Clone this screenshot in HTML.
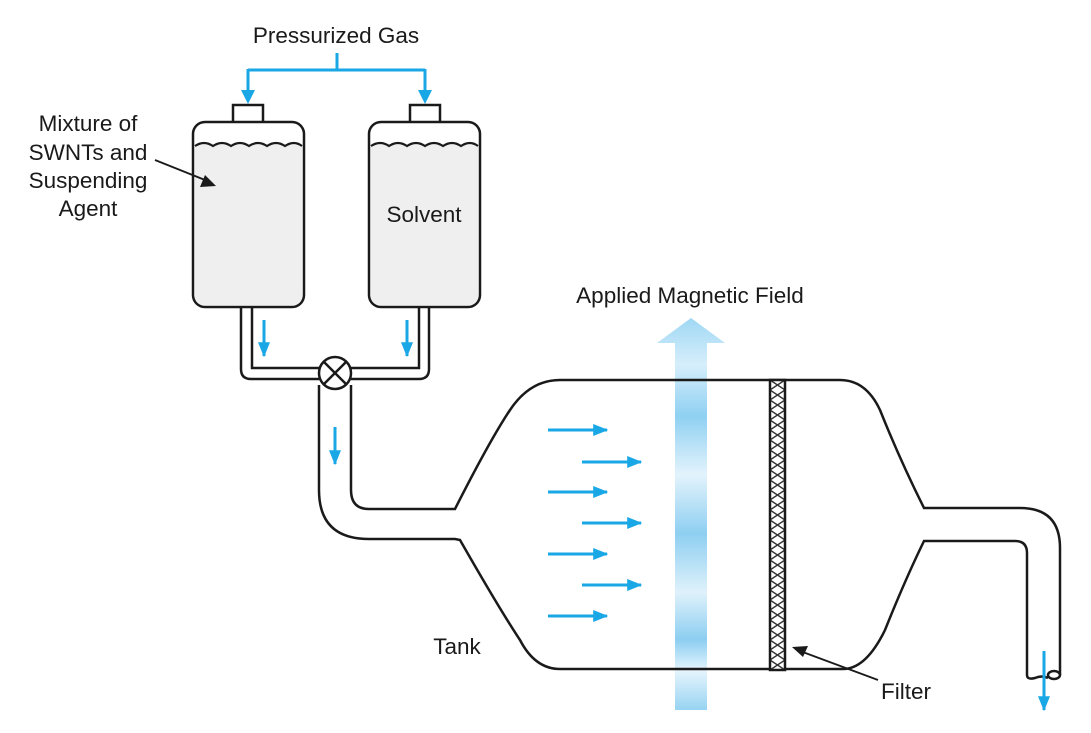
<!DOCTYPE html>
<html><head><meta charset="utf-8"><style>
html,body{margin:0;padding:0;background:#fff;}
svg{display:block;}
text{font-family:"Liberation Sans",Arial,sans-serif;font-size:22.5px;fill:#1a1a1a;}
</style></head><body>
<svg width="1091" height="733" viewBox="0 0 1091 733" xmlns="http://www.w3.org/2000/svg">
<defs>
<linearGradient id="fg" x1="0" y1="0" x2="0" y2="1">
<stop offset="0" stop-color="#9fd8f4"/>
<stop offset="0.12" stop-color="#d6eefb"/>
<stop offset="0.25" stop-color="#8fd0f2"/>
<stop offset="0.4" stop-color="#e3f3fc"/>
<stop offset="0.55" stop-color="#8ecff1"/>
<stop offset="0.7" stop-color="#dff1fb"/>
<stop offset="0.82" stop-color="#8ccef1"/>
<stop offset="0.9" stop-color="#e6f5fd"/>
<stop offset="1" stop-color="#96d3f2"/>
</linearGradient>
<pattern id="hatch" width="15" height="10" patternUnits="userSpaceOnUse" x="770" y="380">
<rect width="15" height="10" fill="#fff"/>
<path d="M0,0 L15,10 M15,0 L0,10" stroke="#333" stroke-width="1.4"/>
</pattern>
<marker id="bh" markerWidth="5" markerHeight="4.4" refX="4.6" refY="2.2" orient="auto" markerUnits="strokeWidth"><path d="M0,0.2 L5,2.2 L0,4.2 z" fill="#1aa7e6"/></marker>
</defs>

<polygon points="691,318 657,343 675,343 675,710 707,710 707,343 725,343" fill="url(#fg)"/>

<g stroke="#1a1a1a" stroke-width="2.5" fill="none">
<rect x="233" y="105" width="30" height="18" fill="#fff"/>
<rect x="410" y="105" width="30" height="18" fill="#fff"/>
<rect x="193" y="122" width="111" height="185" rx="12" fill="#fff"/>
<rect x="369" y="122" width="111" height="185" rx="12" fill="#fff"/>
</g>
<g fill="#efefef" stroke="none">
<path d="M195,146 q9,-6 18,0 q9,-6 18,0 q9,-6 18,0 q9,-6 18,0 q9,-6 18,0 q9,-6 17,0 L302,296 q0,9 -10,9 L205,305 q-10,0 -10,-9 z"/>
<path d="M371,146 q9,-6 18,0 q9,-6 18,0 q9,-6 18,0 q9,-6 18,0 q9,-6 18,0 q9,-6 17,0 L478,296 q0,9 -10,9 L381,305 q-10,0 -10,-9 z"/>
</g>
<g stroke="#1a1a1a" stroke-width="2.2" fill="none">
<path d="M195,146 q9,-6 18,0 q9,-6 18,0 q9,-6 18,0 q9,-6 18,0 q9,-6 18,0 q9,-6 17,0"/>
<path d="M371,146 q9,-6 18,0 q9,-6 18,0 q9,-6 18,0 q9,-6 18,0 q9,-6 18,0 q9,-6 17,0"/>
</g>

<g stroke="#1a1a1a" stroke-width="2.5" fill="none">
<path d="M241,307 V369 q0,10 10,10 H319"/>
<path d="M252,307 V368 H319"/>
<path d="M429,307 V369 q0,10 -10,10 H351"/>
<path d="M419,307 V368 H351"/>
<path d="M319,385 V490 q0,49 50,49 H455 L460,540 Q500,610 520,640 Q535,669 560,669 H843"/>
<path d="M351,385 V490 q0,19 18,19 H455 Q490,440 510,410 Q530,380 560,380 H840"/>
<circle cx="335" cy="373" r="16" fill="#fff"/>
<path d="M324,362 L346,384 M346,362 L324,384"/>
<path d="M840,380 Q866,380 880,410 Q900,460 924,508 H1020 q40,0 40,40 V675"/>
<path d="M843,669 Q866,669 885,630 Q905,580 924,541 H1015 q12,0 12,12 V675 q0,5 8,3 q7,-3 13,0"/>
<ellipse cx="1054" cy="675" rx="6" ry="4"/>
</g>
<rect x="770" y="380" width="15" height="290" fill="url(#hatch)" stroke="#1a1a1a" stroke-width="2.5"/>

<g stroke="#1aa7e6" stroke-width="3" fill="none">
<path d="M337,53 V70 M248,70 H425 M248,69 V92 M425,69 V92"/>
</g>
<g fill="#1aa7e6">
<polygon points="241,90 255,90 248,104"/>
<polygon points="418,90 432,90 425,104"/>
</g>
<g stroke="#1aa7e6" stroke-width="3" marker-end="url(#bh)" fill="none">
<path d="M264,320 V356"/>
<path d="M407,320 V356"/>
<path d="M335,427 V464"/>
<path d="M1044,651 V710"/>
<path d="M548,430 H607"/>
<path d="M582,462 H641"/>
<path d="M548,492 H607"/>
<path d="M582,523 H641"/>
<path d="M548,554 H607"/>
<path d="M582,585 H641"/>
<path d="M548,616 H607"/>
</g>

<g stroke="#1a1a1a" stroke-width="1.8" fill="#1a1a1a">
<line x1="155" y1="160" x2="205" y2="180"/>
<polygon points="216,186 200,187 205,175" stroke="none"/>
<line x1="878" y1="680" x2="800" y2="651"/>
<polygon points="792,647 808,646 803,657" stroke="none"/>
</g>

<text x="336" y="43" text-anchor="middle">Pressurized Gas</text>
<text x="88" y="131" text-anchor="middle">Mixture of</text>
<text x="88" y="160" text-anchor="middle">SWNTs and</text>
<text x="88" y="188" text-anchor="middle">Suspending</text>
<text x="88" y="216" text-anchor="middle">Agent</text>
<text x="424" y="222" text-anchor="middle">Solvent</text>
<text x="690" y="303" text-anchor="middle">Applied Magnetic Field</text>
<text x="457" y="654" text-anchor="middle">Tank</text>
<text x="906" y="699" text-anchor="middle">Filter</text>
</svg>
</body></html>
